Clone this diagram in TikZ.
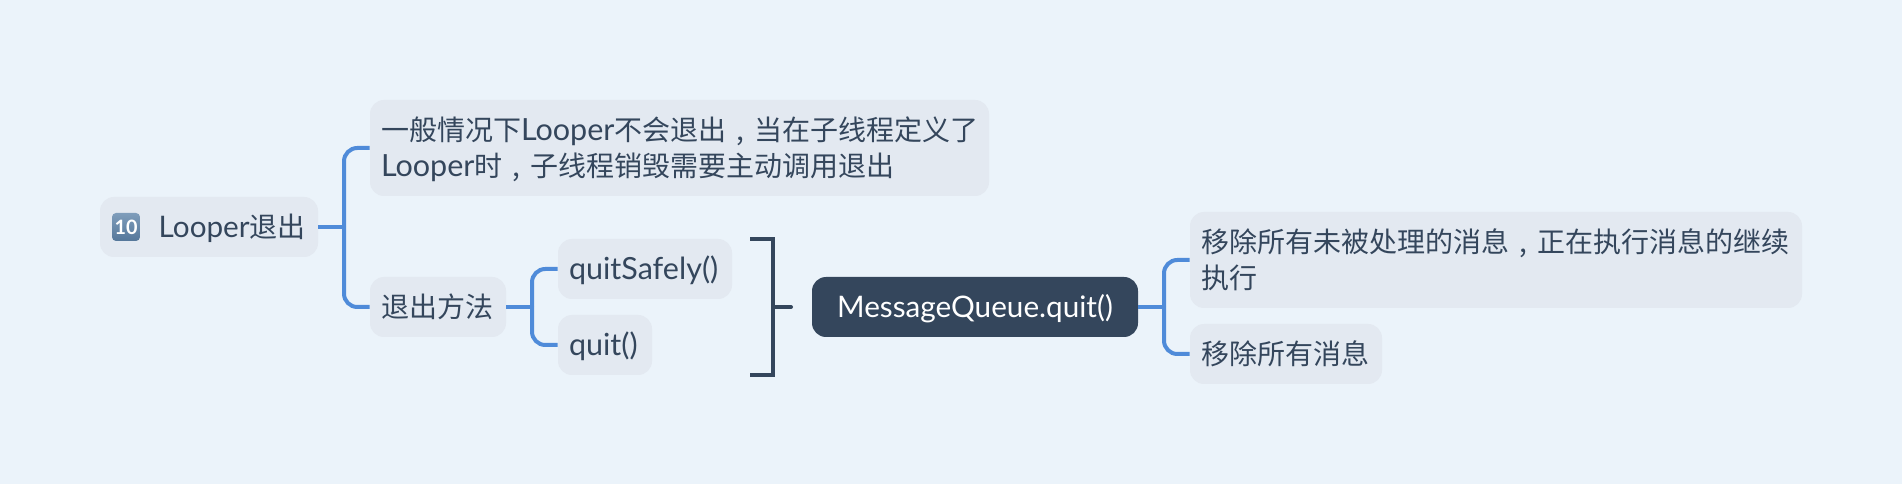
\documentclass[tikz,border=0pt]{standalone}
\usepackage{fontspec}
\setmainfont[Scale=1.06]{Lato}
\newfontfamily\cjkf{Noto Sans CJK SC}
\newcommand{\zh}[1]{{\cjkf #1}}
\newcommand{\zhc}{\makebox[21pt][c]{\cjkf ,}}
\newcommand{\lat}[1]{{\fontsize{21.6}{27}\selectfont #1}}
\definecolor{bgc}{HTML}{EBF3FA}
\definecolor{boxc}{HTML}{E3E9F1}
\definecolor{inkc}{HTML}{34465C}
\definecolor{linkc}{HTML}{4F8BD9}
\definecolor{emotop}{HTML}{7F9DBB}
\definecolor{emobot}{HTML}{55779A}
\tikzset{
  x=0.75pt,y=-0.75pt,
  struts/.style={execute at begin node={\rule{0pt}{21.2pt}},
    execute at end node={\rule[-5pt]{0pt}{5pt}}},
  topicbox/.style args={#1/#2}{fill=boxc,rounded corners=10.5pt,text=inkc,
    minimum width=#1*0.75pt,minimum height=#2*0.75pt,inner sep=0pt,
    text width=(#1-22)*0.75pt,align=left,font=\fontsize{21}{27}\selectfont,struts},
  darkbox/.style args={#1/#2}{fill=inkc,rounded corners=10.5pt,text=white,
    minimum width=#1*0.75pt,minimum height=#2*0.75pt,inner sep=0pt,
    text width=(#1-22)*0.75pt,align=center,font=\fontsize{21}{27}\selectfont,struts},
  linkline/.style={draw=linkc,line width=3pt,rounded corners=10pt},
  brack/.style={draw=inkc,line width=3pt},
  emo/.style={rounded corners=3pt,top color=emotop,bottom color=emobot,text=white,
    minimum width=21pt,minimum height=21pt,inner sep=0pt,
    font=\bfseries\fontsize{14}{14}\selectfont},
}
\begin{document}
\begin{tikzpicture}
\fill[bgc] (0,0) rectangle (1902,484);
\useasboundingbox (0,0) rectangle (1902,484);

\node[topicbox=218/60,align=right] (root) at (209,227) {Looper\zh{退出}\kern1pt};
\node[emo] (ten) at (126,227) {10};
\node[topicbox=619/96] (desc) at (679.5,148) {\zh{一般情况下}\lat{Looper}\zh{不会退出}\zhc\zh{当在子线程定义了}\\\lat{Looper}\zh{时}\zhc\zh{子线程销毁需要主动调用退出}};
\node[topicbox=136/60] (way) at (438,307) {\zh{退出方法}};
\node[topicbox=174/60] (safe) at (645,269) {\lat{quitSafely()}};
\node[topicbox=94/60] (quit) at (605,345) {\lat{quit()}};
\node[darkbox=326/60] (mq) at (975,307) {MessageQueue.quit()};
\node[topicbox=612/96] (all) at (1496,260) {\zh{移除所有未被处理的消息}\zhc\zh{正在执行消息的继续}\\\zh{执行}};
\node[topicbox=192/60] (rem) at (1286,354) {\zh{移除所有消息}};

\coordinate (j1) at (344,227);
\coordinate (j2) at (532,307);
\coordinate (j3) at (1164,307);
\draw[linkline] (root.east) -- (j1);
\draw[linkline] (j1) |- (desc.west);
\draw[linkline] (j1) |- (way.west);
\draw[linkline] (way.east) -- (j2);
\draw[linkline] (j2) |- (safe.west);
\draw[linkline] (j2) |- (quit.west);
\draw[linkline] (mq.east) -- (j3);
\draw[linkline] (j3) |- (all.west);
\draw[linkline] (j3) |- (rem.west);

\coordinate (bt) at (750,239);
\coordinate (bb) at (750,375);
\coordinate (bm) at (773,307);
\coordinate (bs) at (791,307);
\draw[brack] (bt) -| (bm) |- (bb);
\draw[brack,line cap=round] (bm) -- (bs);
\end{tikzpicture}
\end{document}
